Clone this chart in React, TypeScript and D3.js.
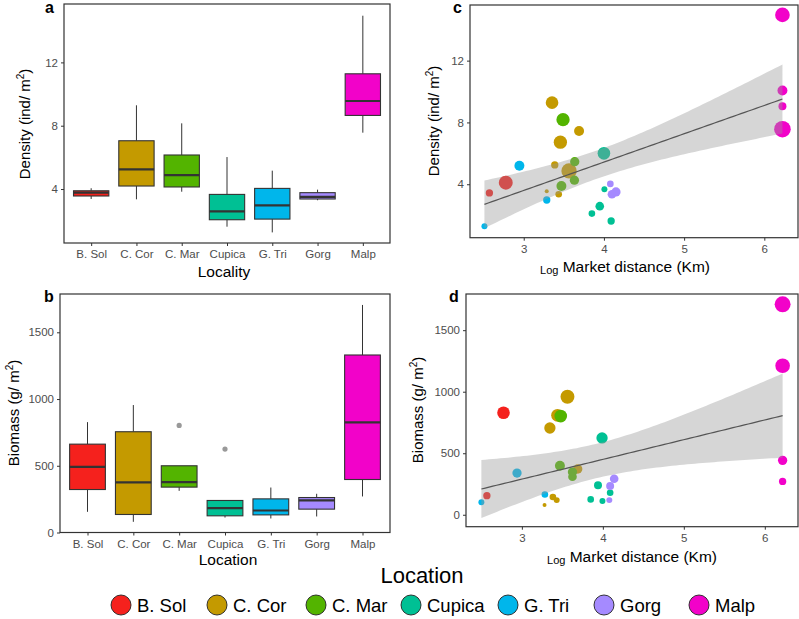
import { useEffect, useRef } from 'react';
import * as d3 from 'd3';

const sites = ['B. Sol', 'C. Cor', 'C. Mar', 'Cupica', 'G. Tri', 'Gorg', 'Malp'];
const siteColors = ['#F5211D', '#C49A00', '#53B400', '#00C094', '#00B6EB', '#A58AFF', '#F202C9'];

// density box stats per locality (ind/m2)
const densityLower = [3.37, 3.35, 3.83, 1.62, 1.26, 3.29, 7.56];
const densityQ1 = [3.56, 4.19, 4.13, 2.06, 2.1, 3.37, 8.65];
const densityMedian = [3.77, 5.24, 4.88, 2.59, 2.97, 3.51, 9.56];
const densityQ3 = [3.89, 7.05, 6.15, 3.66, 4.04, 3.77, 11.28];
const densityUpper = [4.05, 9.29, 8.15, 6.02, 5.16, 3.96, 14.95];

// biomass box stats per location (g/m2)
const biomassLower = [155, 80, 312, 112, 105, 120, 270];
const biomassQ1 = [322, 135, 340, 125, 132, 175, 397];
const biomassMedian = [492, 375, 377, 182, 165, 240, 825];
const biomassQ3 = [662, 755, 500, 240, 252, 262, 1330];
const biomassUpper = [827, 955, 500, 240, 337, 290, 1705];
const biomassOutlierSite = ['C. Mar', 'Cupica'];
const biomassOutlierValue = [802, 625];

// density vs log market distance
const densSite = [
  'Malp', 'Malp', 'Malp', 'Malp',
  'C. Cor', 'C. Cor', 'C. Cor', 'C. Cor', 'C. Cor', 'C. Cor', 'C. Cor',
  'C. Mar', 'C. Mar', 'C. Mar', 'C. Mar',
  'Cupica', 'Cupica', 'Cupica', 'Cupica', 'Cupica',
  'G. Tri', 'G. Tri', 'G. Tri',
  'Gorg', 'Gorg', 'Gorg',
  'B. Sol', 'B. Sol',
];
const densDistance = [
  6.226, 6.226, 6.226, 6.226,
  3.353, 3.69, 3.457, 3.387, 3.565, 3.287, 3.436,
  3.49, 3.636, 3.632, 3.47,
  4.0, 4.006, 3.948, 3.85, 4.09,
  2.946, 3.287, 2.51,
  4.08, 4.15, 4.1,
  2.776, 2.572,
];
const densValue = [
  14.96, 10.06, 9.05, 7.56,
  9.28, 7.45, 6.72, 5.25, 4.86, 3.55, 3.35,
  8.18, 5.46, 4.26, 3.89,
  6.0, 3.68, 2.58, 2.1, 1.62,
  5.2, 2.98, 1.28,
  4.02, 3.5, 3.35,
  4.1, 3.44,
];
const densSize = [
  22, 15, 12, 25,
  19, 15, 20, 11, 23, 6, 10,
  20, 14, 14, 15,
  19, 9, 13, 10, 11,
  15, 11, 9,
  10, 14, 13,
  21, 11,
];

// biomass vs log market distance
const bioSite = [
  'Malp', 'Malp', 'Malp', 'Malp',
  'B. Sol', 'B. Sol',
  'C. Cor', 'C. Cor', 'C. Cor', 'C. Cor', 'C. Cor', 'C. Cor', 'C. Cor',
  'C. Mar', 'C. Mar', 'C. Mar', 'C. Mar',
  'Cupica', 'Cupica', 'Cupica', 'Cupica', 'Cupica',
  'G. Tri', 'G. Tri', 'G. Tri',
  'Gorg', 'Gorg', 'Gorg',
];
const bioDistance = [
  6.22, 6.22, 6.22, 6.22,
  2.773, 2.568,
  3.563, 3.44, 3.346, 3.69, 3.383, 3.43, 3.28,
  3.48, 3.47, 3.625, 3.625,
  3.99, 3.94, 4.09, 3.85, 3.995,
  2.94, 3.284, 2.5,
  4.14, 4.09, 4.08,
];
const bioValue = [
  1710, 1211, 442, 271,
  829, 155,
  959, 808, 705, 372, 144, 119, 79,
  802, 398, 347, 309,
  624, 239, 179, 125, 111,
  339, 165, 101,
  293, 233, 119,
];
const bioSize = [
  24, 22, 14, 11,
  19, 11,
  21, 19, 17, 14, 10, 9, 6,
  19, 15, 14, 13,
  17, 12, 10, 10, 9,
  14, 10, 9,
  13, 12, 9,
];

const FONT = 'Liberation Sans, Arial, Helvetica, sans-serif';
const color = d3.scaleOrdinal<string, string>().domain(sites).range(siteColors);
const radius = d3.scaleLinear().domain([0, 25]).range([0, 8.3]);
const plain = d3.format('d');

// linear fit with 95% confidence band
function lmBand(xs: number[], ys: number[]) {
  const n = xs.length;
  const mx = d3.mean(xs) as number;
  const my = d3.mean(ys) as number;
  const sxx = d3.sum(xs, x => (x - mx) ** 2);
  const sxy = d3.sum(xs.map((x, i) => (x - mx) * (ys[i] - my)));
  const slope = sxy / sxx;
  const icpt = my - slope * mx;
  const rss = d3.sum(xs.map((x, i) => (ys[i] - icpt - slope * x) ** 2));
  const s = Math.sqrt(rss / (n - 2));
  const t = 2.056; // t quantile, 26 df
  const [lo, hi] = d3.extent(xs) as [number, number];
  return d3.range(80).map(i => {
    const x = lo + ((hi - lo) * i) / 79;
    const fit = icpt + slope * x;
    const se = s * Math.sqrt(1 / n + (x - mx) ** 2 / sxx);
    return { x, fit, lo: fit - t * se, hi: fit + t * se };
  });
}

function styleAxis(g: any) {
  g.select('.domain').remove();
  g.selectAll('.tick line').attr('stroke', '#333').attr('stroke-width', 1);
  g.selectAll('.tick text')
    .attr('fill', '#4D4D4D')
    .style('font-size', '11.5px')
    .style('font-family', FONT);
}

function frame(svg: any, x0: number, y0: number, x1: number, y1: number) {
  svg
    .append('rect')
    .attr('x', x0)
    .attr('y', y0)
    .attr('width', x1 - x0)
    .attr('height', y1 - y0)
    .attr('fill', 'none')
    .attr('stroke', '#333')
    .attr('stroke-width', 1.2);
}

function yTitle(svg: any, x: number, y: number, main: string, unit: string) {
  const t = svg
    .append('text')
    .attr('transform', `translate(${x},${y}) rotate(-90)`)
    .attr('text-anchor', 'middle')
    .style('font-family', FONT)
    .style('font-size', '15px')
    .attr('fill', '#000');
  t.append('tspan').text(`${main} (${unit}/ m`);
  t.append('tspan').attr('dy', -6).style('font-size', '10px').text('2');
  t.append('tspan').attr('dy', 6).text(')');
}

function logTitle(svg: any, cx: number, y: number) {
  const t = svg
    .append('text')
    .attr('x', cx)
    .attr('y', y)
    .attr('text-anchor', 'middle')
    .style('font-family', FONT)
    .style('font-size', '15.5px')
    .attr('fill', '#000');
  t.append('tspan').attr('dy', 2).style('font-size', '11px').text('Log');
  t.append('tspan').attr('dy', -2).text(' Market distance (Km)');
}

function tag(svg: any, x: number, y: number, label: string) {
  svg
    .append('text')
    .attr('x', x)
    .attr('y', y)
    .style('font-family', FONT)
    .style('font-size', '16px')
    .style('font-weight', '700')
    .text(label);
}

function boxPanel(svg: any, opts: any) {
  const { x0, x1, y0, y1, domain, ticks, lower, q1, med, q3, upper } = opts;
  const x = d3.scalePoint().domain(sites).range([x0, x1]).padding(0.6);
  const y = d3.scaleLinear().domain(domain).range([y1, y0]);
  const bw = x.step() * 0.78;

  svg
    .append('g')
    .attr('transform', `translate(${x0},0)`)
    .call(d3.axisLeft(y).tickValues(ticks).tickFormat(plain).tickSize(3).tickPadding(3))
    .call(styleAxis);
  svg
    .append('g')
    .attr('transform', `translate(0,${y1})`)
    .call(d3.axisBottom(x).tickSize(3).tickPadding(4))
    .call(styleAxis);

  const g = svg.append('g');
  sites.forEach((s, i) => {
    const cx = x(s) as number;
    g.append('line')
      .attr('x1', cx)
      .attr('x2', cx)
      .attr('y1', y(upper[i]))
      .attr('y2', y(q3[i]))
      .attr('stroke', '#333')
      .attr('stroke-width', 1);
    g.append('line')
      .attr('x1', cx)
      .attr('x2', cx)
      .attr('y1', y(q1[i]))
      .attr('y2', y(lower[i]))
      .attr('stroke', '#333')
      .attr('stroke-width', 1);
    g.append('rect')
      .attr('x', cx - bw / 2)
      .attr('y', y(q3[i]))
      .attr('width', bw)
      .attr('height', y(q1[i]) - y(q3[i]))
      .attr('fill', color(s))
      .attr('stroke', '#333')
      .attr('stroke-width', 1.1);
    g.append('line')
      .attr('x1', cx - bw / 2)
      .attr('x2', cx + bw / 2)
      .attr('y1', y(med[i]))
      .attr('y2', y(med[i]))
      .attr('stroke', '#333')
      .attr('stroke-width', 2.2);
  });
  if (opts.outSite) {
    opts.outSite.forEach((s: string, i: number) => {
      g.append('circle')
        .attr('cx', x(s))
        .attr('cy', y(opts.outValue[i]))
        .attr('r', 2.6)
        .attr('fill', '#999');
    });
  }
  frame(svg, x0, y0, x1, y1);
}

function scatterPanel(svg: any, opts: any) {
  const { x0, x1, y0, y1, xDomain, yDomain, yTicks, site, xs, ys, size } = opts;
  const x = d3.scaleLinear().domain(xDomain).range([x0, x1]);
  const y = d3.scaleLinear().domain(yDomain).range([y1, y0]);

  svg
    .append('g')
    .attr('transform', `translate(${x0},0)`)
    .call(d3.axisLeft(y).tickValues(yTicks).tickFormat(plain).tickSize(3).tickPadding(3))
    .call(styleAxis);
  svg
    .append('g')
    .attr('transform', `translate(0,${y1})`)
    .call(d3.axisBottom(x).tickValues([3, 4, 5, 6]).tickFormat(plain).tickSize(3).tickPadding(4))
    .call(styleAxis);

  svg
    .append('g')
    .selectAll('circle')
    .data(xs.map((v: number, i: number) => i))
    .join('circle')
    .attr('cx', (i: number) => x(xs[i]))
    .attr('cy', (i: number) => y(ys[i]))
    .attr('r', (i: number) => radius(size[i]))
    .attr('fill', (i: number) => color(site[i]));

  const band = lmBand(xs, ys);
  svg
    .append('path')
    .attr(
      'd',
      d3
        .area<any>()
        .x(d => x(d.x))
        .y0(d => y(d.lo))
        .y1(d => y(d.hi))(band),
    )
    .attr('fill', '#999')
    .attr('fill-opacity', 0.4);
  svg
    .append('path')
    .attr(
      'd',
      d3
        .line<any>()
        .x(d => x(d.x))
        .y(d => y(d.fit))(band),
    )
    .attr('fill', 'none')
    .attr('stroke', '#555')
    .attr('stroke-width', 1.2);

  frame(svg, x0, y0, x1, y1);
}

function legend(svg: any) {
  svg
    .append('text')
    .attr('x', 422)
    .attr('y', 583)
    .attr('text-anchor', 'middle')
    .style('font-family', FONT)
    .style('font-size', '22px')
    .text('Location');
  const keyX = [121, 217, 316, 411, 508, 604, 699];
  const items = svg
    .append('g')
    .selectAll('g')
    .data(sites)
    .join('g')
    .attr('transform', (d: string, i: number) => `translate(${keyX[i]},605)`);
  items
    .append('circle')
    .attr('r', 10)
    .attr('fill', (d: string) => color(d))
    .attr('stroke', '#222')
    .attr('stroke-width', 0.9);
  items
    .append('text')
    .attr('x', 16)
    .attr('y', 7)
    .style('font-family', FONT)
    .style('font-size', '18.5px')
    .text((d: string) => d);
}

export default function App() {
  const svgRef = useRef<SVGSVGElement>(null);

  useEffect(() => {
    const svg = d3.select(svgRef.current);
    svg.selectAll('*').remove();

    boxPanel(svg, {
      x0: 64, x1: 390, y0: 4, y1: 243,
      domain: [0.59, 15.69], ticks: [4, 8, 12],
      lower: densityLower, q1: densityQ1, med: densityMedian, q3: densityQ3, upper: densityUpper,
    });
    boxPanel(svg, {
      x0: 60, x1: 390, y0: 294, y1: 532.5,
      domain: [0, 1787], ticks: [0, 500, 1000, 1500],
      lower: biomassLower, q1: biomassQ1, med: biomassMedian, q3: biomassQ3, upper: biomassUpper,
      outSite: biomassOutlierSite, outValue: biomassOutlierValue,
    });
    scatterPanel(svg, {
      x0: 470, x1: 798, y0: 5, y1: 237.7,
      xDomain: [2.33, 6.42], yDomain: [0.54, 15.6], yTicks: [4, 8, 12],
      site: densSite, xs: densDistance, ys: densValue, size: densSize,
    });
    scatterPanel(svg, {
      x0: 466, x1: 798, y0: 294, y1: 526.7,
      xDomain: [2.31, 6.41], yDomain: [-97, 1794], yTicks: [0, 500, 1000, 1500],
      site: bioSite, xs: bioDistance, ys: bioValue, size: bioSize,
    });

    yTitle(svg, 30, 124, 'Density', 'ind');
    yTitle(svg, 19, 413, 'Biomass', 'g');
    yTitle(svg, 439, 121, 'Density', 'ind');
    yTitle(svg, 423, 410, 'Biomass', 'g');

    svg.append('text').attr('x', 224).attr('y', 277).attr('text-anchor', 'middle')
      .style('font-family', FONT).style('font-size', '15.5px').text('Locality');
    svg.append('text').attr('x', 228).attr('y', 565).attr('text-anchor', 'middle')
      .style('font-family', FONT).style('font-size', '15.5px').text('Location');
    logTitle(svg, 625, 272);
    logTitle(svg, 632, 562);

    tag(svg, 45, 13, 'a');
    tag(svg, 44, 302, 'b');
    tag(svg, 453, 13, 'c');
    tag(svg, 449, 302, 'd');

    legend(svg);
  }, []);

  return (
    <svg
      ref={svgRef}
      width={799}
      height={619}
      style={{ position: 'absolute', left: 0, top: 0, background: '#fff' }}
    />
  );
}
